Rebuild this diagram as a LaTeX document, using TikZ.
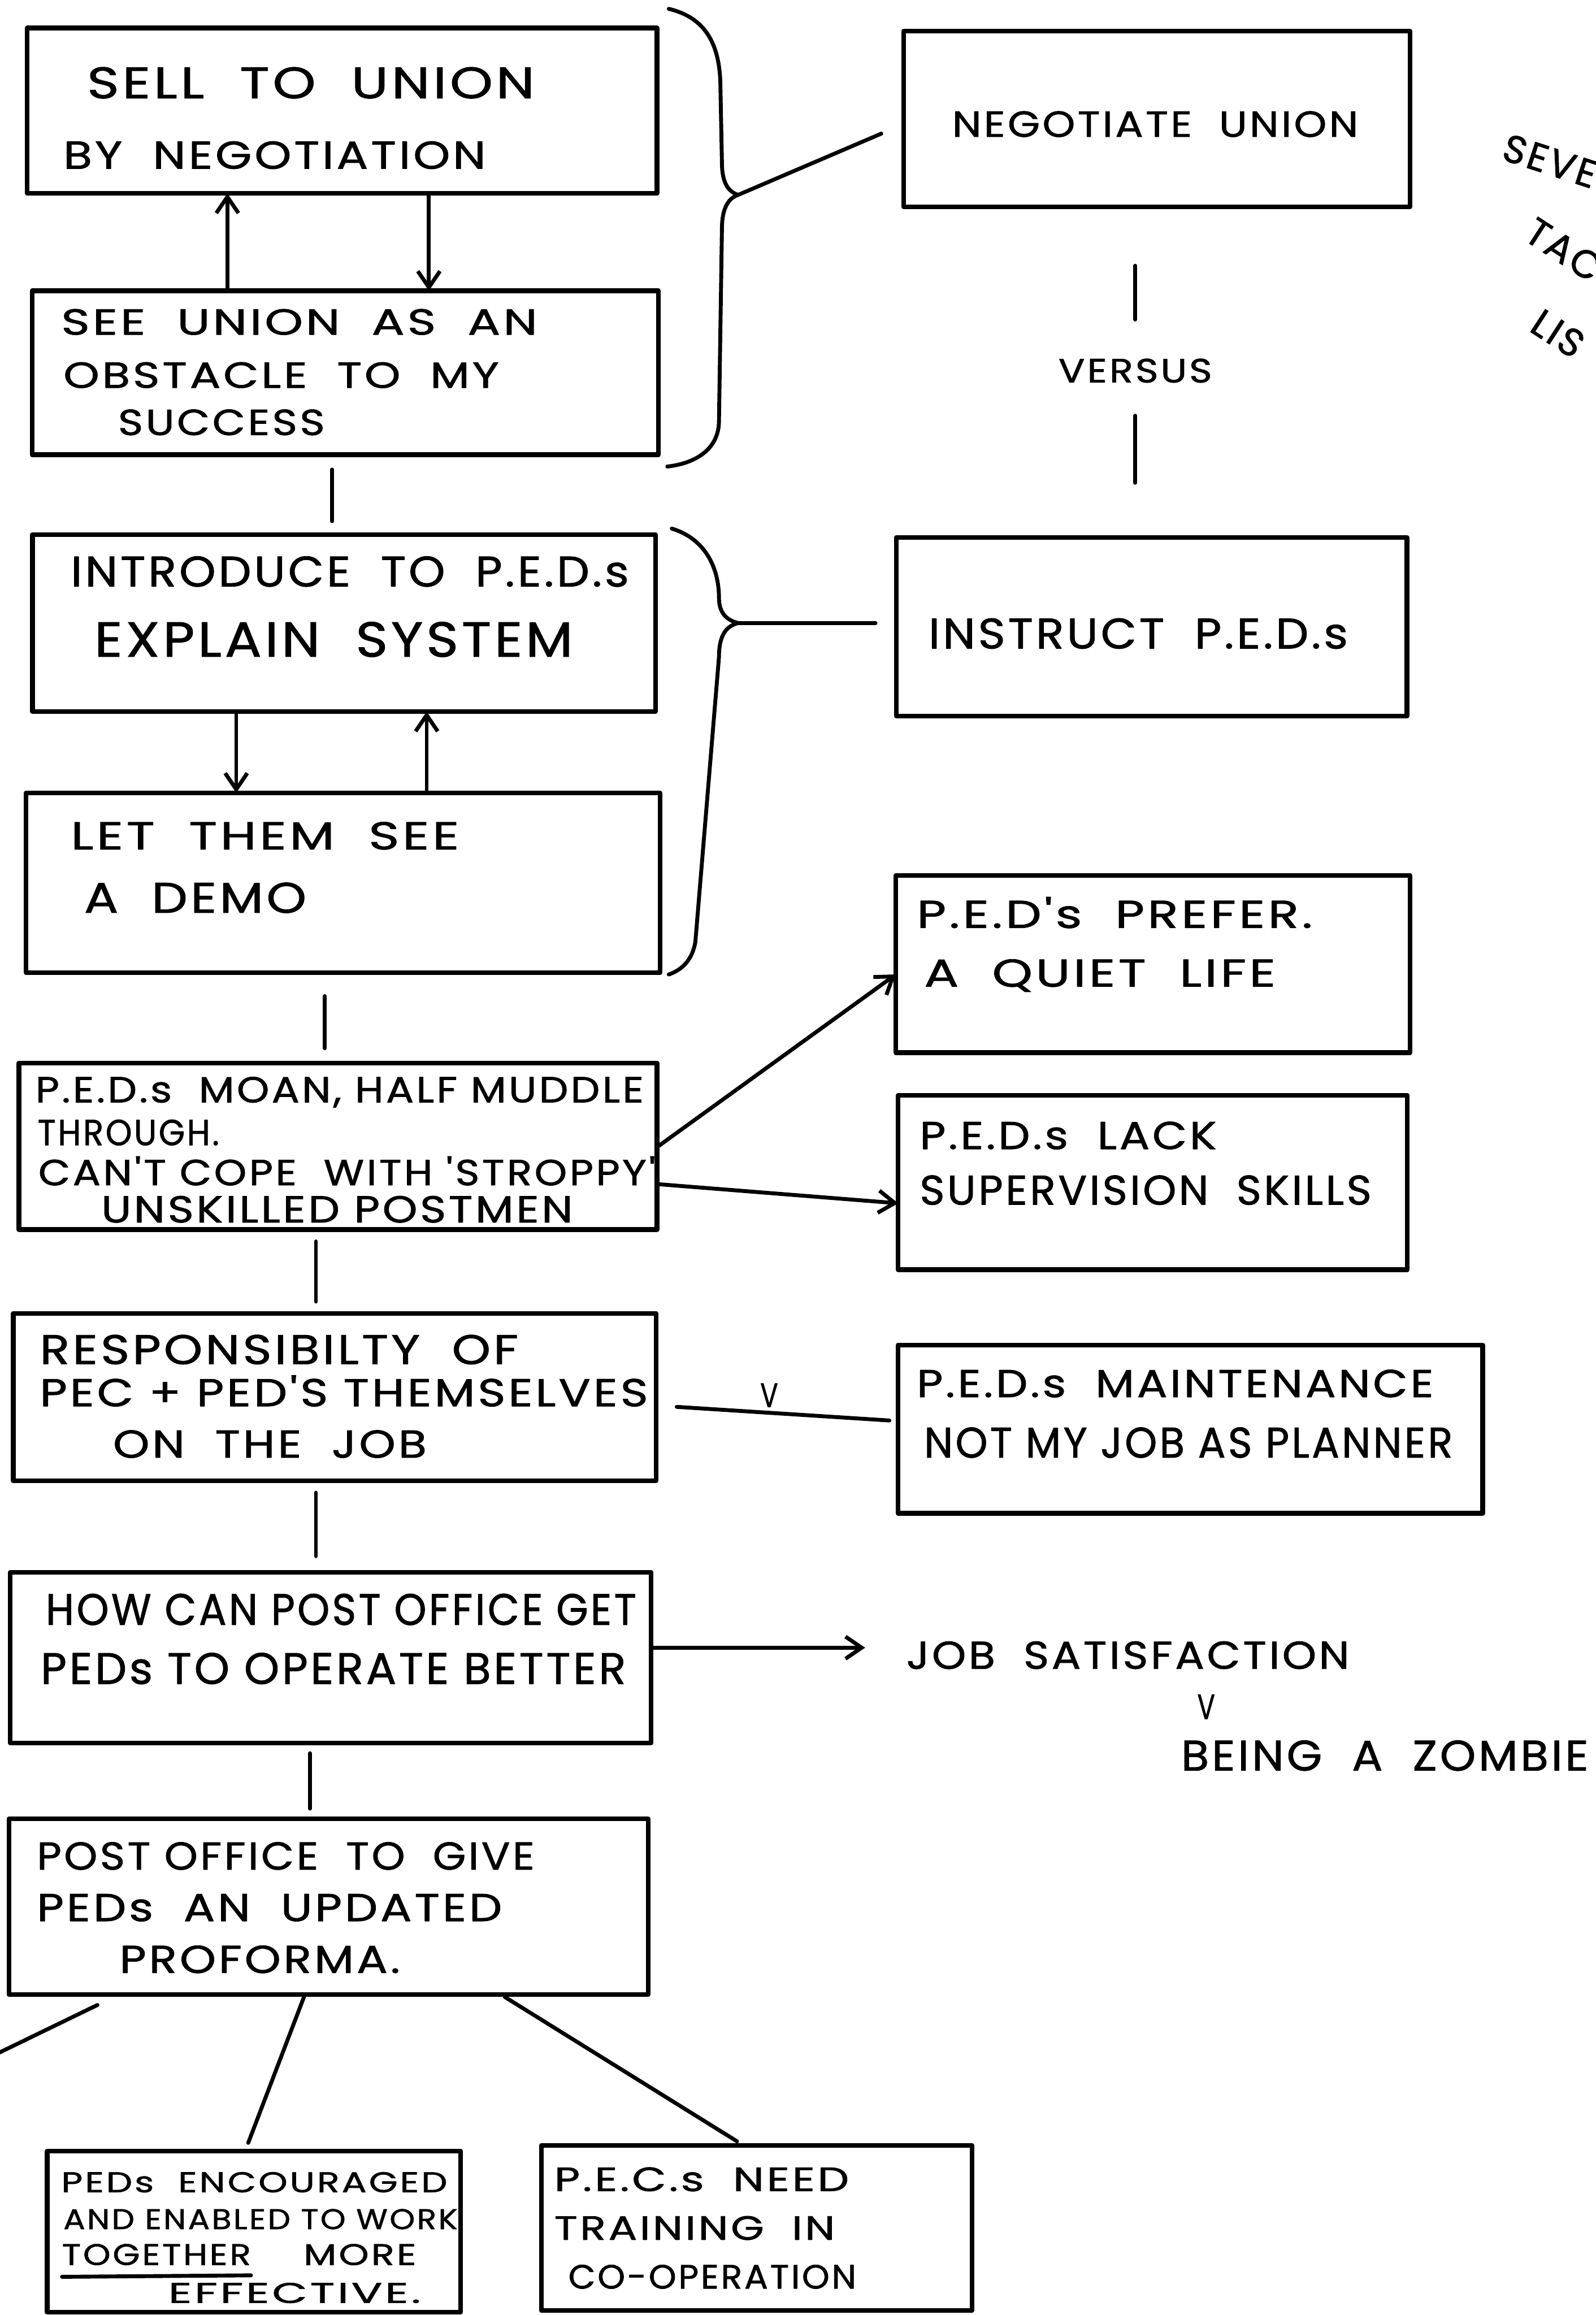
\documentclass[tikz,border=0pt]{standalone}
\usepackage{fontspec}
\usepackage{graphicx}
\usetikzlibrary{arrows.meta,calc}
\newfontfamily\hand[LetterSpace=6,FakeBold=1.2]{Poppins}
% one hand-lettered line: name, left x, mid y, right x, size (pt), text
\newcommand\wtext[6]{%
  \pgfmathsetlengthmacro\wtw{(#4-#2)*0.02cm}%
  \node[txt,font=\hand\fontsize{#5}{#5}\selectfont] (#1) at (#2,#3)
    {\resizebox{\wtw}{\height}{\raisebox{0pt}[\height][0pt]{#6}}};}
% framed box: name, left, top, right, bottom
\newcommand\mkbox[5]{%
  \node[box,minimum width={(#4-#2)*0.02cm},minimum height={(#5-#3)*0.02cm}]
    (#1) at ({(#2+#4)/2},{(#3+#5)/2}) {};}
\begin{document}
\begin{tikzpicture}[x=0.02cm,y=-0.02cm,line cap=round,line join=round,
  box/.style={draw,line width=1.8pt,inner sep=0pt,outer sep=0pt},
  txt/.style={anchor=west,inner sep=0pt,outer sep=0pt},
  link/.style={line width=1.5pt},
  arr/.style={link,-{Straight Barb[length=0.22cm,width=0.3cm]}}]
\fill[white] (0,0) rectangle (1081,1568);
\useasboundingbox (0,0) rectangle (1081,1568);
\clip (0,0) rectangle (1081,1568);

% ---- left column ----
\mkbox{B1}{18.5}{19}{445}{131}
\mkbox{B2}{21.7}{197}{446}{308}
\mkbox{B4}{22}{362}{444}{482}
\mkbox{B5}{17.6}{537}{447}{658.7}
\mkbox{B7}{12.8}{720}{445}{832.8}
\mkbox{B9}{9}{889.6}{444.4}{1003}
\mkbox{B11}{7}{1065}{441}{1180.5}
\mkbox{B13}{6}{1232}{439}{1351}
\mkbox{B14}{32}{1457}{312}{1566}
\mkbox{B15}{366.7}{1453}{658.3}{1565}
% ---- right column ----
\mkbox{R1}{612}{21}{955}{140}
\mkbox{R2}{607}{364}{953}{485}
\mkbox{R3}{606.8}{593}{955}{713}
\mkbox{R4}{608.4}{742}{953.3}{860}
\mkbox{R5}{608.4}{911}{1004.3}{1025}

% ---- lettering ----
\wtext{t1a}{59}{56}{362}{17}{SELL~~TO~~UNION}
\wtext{t1b}{43}{105}{329}{15}{BY~~NEGOTIATION}
\wtext{t2a}{41.5}{218}{364}{14}{SEE~~UNION~~AS~~AN}
\wtext{t2b}{43}{254}{338}{14}{OBSTACLE~~TO~~MY}
\wtext{t2c}{80}{286}{220}{14}{SUCCESS}
\wtext{t4a}{48}{387}{426}{16.5}{INTRODUCE~~TO~~P.E.D.s}
\wtext{t4b}{64}{433}{388}{19}{EXPLAIN~~SYSTEM}
\wtext{t5a}{48}{566}{311}{15}{LET~~THEM~~SEE}
\wtext{t5b}{57}{608}{207.5}{16.5}{A~~DEMO}
\wtext{t7a}{24}{738}{436}{14}{P.E.D.s~~MOAN, HALF MUDDLE}
\wtext{t7b}{25.5}{767}{148.5}{14}{THROUGH.}
\wtext{t7c}{26}{793}{444}{14}{CAN'T COPE~~WITH 'STROPPY'}
\wtext{t7d}{68.6}{819}{388}{14.5}{UNSKILLED POSTMEN}
\wtext{t9a}{27}{914}{351}{16}{RESPONSIBILTY~~OF}
\wtext{t9b}{27}{942}{439}{15}{PEC + PED'S THEMSELVES}
\wtext{t9c}{76.6}{978}{289}{15}{ON~~THE~~JOB}
\wtext{t11a}{31}{1090}{431}{17}{HOW CAN POST OFFICE GET}
\wtext{t11b}{27.6}{1130}{424}{17}{PEDs TO OPERATE BETTER}
\wtext{t13a}{25}{1257}{362}{15}{POST OFFICE~~TO~~GIVE}
\wtext{t13b}{25}{1292}{340}{15}{PEDs~~AN~~UPDATED}
\wtext{t13c}{81}{1327}{271}{15}{PROFORMA.}
\wtext{t14a}{41.5}{1478}{303}{11}{PEDs~~ENCOURAGED}
\wtext{t14b}{43}{1503}{310}{11}{AND ENABLED TO WORK}
\wtext{t14c}{42}{1527}{170}{11.5}{TOGETHER}
\wtext{t14d}{205.6}{1527}{282}{11.5}{MORE}
\wtext{t14e}{114}{1553}{285}{11}{EFFECTIVE.}
\draw[link] ([yshift=-0.16cm]t14c.south west) -- ([yshift=-0.14cm]t14c.south east);
\wtext{t15a}{375.5}{1476}{575}{13}{P.E.C.s~~NEED}
\wtext{t15b}{375.5}{1509}{565.5}{13}{TRAINING~~IN}
\wtext{t15c}{385}{1542}{580}{13}{CO-OPERATION}
\wtext{tr1}{645}{84}{920}{14}{NEGOTIATE~~UNION}
\wtext{vs}{717}{251}{821}{13}{VERSUS}
\wtext{tr2}{629}{429}{913}{16.5}{INSTRUCT~~P.E.D.s}
\wtext{tr3a}{621}{618}{889}{15}{P.E.D's~~PREFER.}
\wtext{tr3b}{626}{659}{864}{15}{A~~QUIET~~LIFE}
\wtext{tr4a}{623}{769}{824}{15}{P.E.D.s~~LACK}
\wtext{tr4b}{623}{806}{929}{16}{SUPERVISION~~SKILLS}
\wtext{tr5a}{621}{937}{971}{15}{P.E.D.s~~MAINTENANCE}
\wtext{tr5b}{626}{977}{984}{16.5}{NOT MY JOB AS PLANNER}
\wtext{vv}{515}{945}{527}{13}{V}
\wtext{js}{614}{1121}{914}{15}{JOB~~SATISFACTION}
\wtext{jv}{811}{1156}{823}{13.5}{V}
\wtext{jz}{800}{1189}{1076}{16.5}{BEING~~A~~ZOMBIE}

% margin note, running off the right edge
\node[txt,font=\hand\fontsize{15}{15}\selectfont,rotate=-18] (n1) at (1019,99) {SEVE};
\node[txt,font=\hand\fontsize{15}{15}\selectfont,rotate=-33] (n2) at (1036,154) {TAC};
\node[txt,font=\hand\fontsize{15}{15}\selectfont,rotate=-33] (n3) at (1040,216) {LIS};

% ---- braces grouping the first two pairs ----
\coordinate (br1) at (500,132);
\coordinate (br2) at (500,422);
\draw[link] (453,6) .. controls (478,12) and (488,30) .. (488,60) -- (489,110)
  .. controls (489,125) and (494,130) .. (br1)
  .. controls (494,134) and (489,140) .. (489,155) -- (487,285)
  .. controls (487,305) and (470,314) .. (452,316);
\draw[link] (455,358) .. controls (478,365) and (487,385) .. (487,405)
  .. controls (487,415) and (492,420) .. (br2)
  .. controls (492,424) and (487,430) .. (487,445) -- (471,638)
  .. controls (469,650) and (462,657) .. (453,660);
\draw[link] (br1) -- ($(R1.west)+(-15,10)$);
\draw[link] (br2) -- ($(R2.west)+(-14,-2.5)$);

% ---- connectors ----
\draw[arr] (154,0 |- B2.north) -- (154,0 |- B1.south);
\draw[arr] (290.5,0 |- B1.south) -- (290.5,0 |- B2.north);
\draw[link,shorten <=0.2cm,shorten >=0.18cm] (225,0 |- B2.south) -- (225,0 |- B4.north);
\draw[arr] (160,0 |- B4.south) -- (160,0 |- B5.north);
\draw[arr] (289,0 |- B5.north) -- (289,0 |- B4.south);
\draw[link,shorten <=0.32cm,shorten >=0.2cm] (220,0 |- B5.south) -- (220,0 |- B7.north);
\draw[link,shorten <=0.16cm,shorten >=0.16cm] (214,0 |- B7.south) -- (214,0 |- B9.north);
\draw[link,shorten <=0.16cm,shorten >=0.22cm] (214,0 |- B9.south) -- (214,0 |- B11.north);
\draw[link,shorten <=0.14cm,shorten >=0.14cm] (210,0 |- B11.south) -- (210,0 |- B13.north);

\draw[link,shorten <=0.8cm,shorten >=0.53cm] (769,0 |- R1.south) -- (769,0 |- vs.north);
\draw[link,shorten <=0.45cm,shorten >=0.74cm] (769,0 |- vs.south) -- (769,0 |- R2.north);

\draw[arr] (B7.east |- 0,777) -- (R3.west |- 0,660);
\draw[arr] (B7.east |- 0,802) -- (R4.west |- 0,815);
\draw[link,shorten <=0.28cm,shorten >=0.12cm] (B9.east |- 0,952) -- (R5.west |- 0,962.5);
\draw[arr,shorten >=0.56cm] (B11.east |- 0,1116) -- (js.west |- 0,1116);

\coordinate (off) at (-2,1391);
\draw[link] ($(B13.south west)+(60,7)$) -- (off);
\draw[link,shorten <=0.02cm,shorten >=0.12cm] (206.5,0 |- B13.south) -- (166,0 |- B14.north);
\draw[link,shorten <=0.06cm,shorten >=0.1cm] (339.4,0 |- B13.south) -- (503.5,0 |- B15.north);
\end{tikzpicture}
\end{document}
